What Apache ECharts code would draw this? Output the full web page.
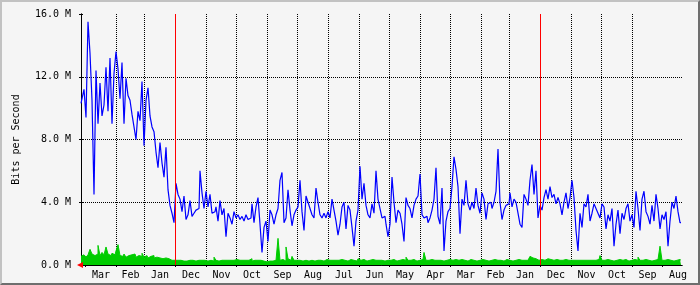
<!DOCTYPE html>
<html><head><meta charset="utf-8">
<script src="https://cdn.jsdelivr.net/npm/echarts@6/dist/echarts.min.js"></script>
<style>
html,body{margin:0;padding:0;background:#f5f5f5;overflow:hidden;}
#c{position:absolute;left:0;top:0;width:700px;height:285px;}
#frame{position:absolute;left:0;top:0;width:700px;height:285px;box-sizing:border-box;border-top:2px solid #c2c2c2;border-left:2px solid #c2c2c2;border-right:2px solid #6e6e6e;border-bottom:2px solid #6e6e6e;pointer-events:none;}
</style></head><body>
<div id="c"></div><div id="frame"></div>
<script>
// Month labels, newest month on the left (time runs right-to-left)
const monthLabels = ['Mar','Feb','Jan','Dec','Nov','Oct','Sep','Aug','Jul','Jun','May','Apr','Mar','Feb','Jan','Dec','Nov','Oct','Sep','Aug'];
const monthDays   = [31,28,31,31,30,31,30,31,31,30,31,30,31,28,31,31,30,31,30,31];
const nowOffset = 4.5;     // days between "now" (left edge) and the 1st of the current month
const totalDays = 601;     // days shown
const binDays = 2;         // each value below covers 2 days
const yTickValues = [0, 4, 8, 12, 16];
const yTickLabels = ['0.0 M', '4.0 M', '8.0 M', '12.0 M', '16.0 M'];

// Outgoing traffic (blue), Mbit/s, 2-day bins from newest (left) to oldest (right)
const outBits = [
 10.3,10.6,11.2,9.4,15.5,13.5,10.5,4.5,12.4,9.0,
 11.6,9.5,10.2,12.6,9.8,13.2,9.0,12.2,13.6,12.5,
 10.6,12.9,9.0,11.9,10.8,10.5,9.6,8.8,8.0,9.8,
 9.2,11.7,7.6,10.5,11.3,9.5,8.8,8.5,7.2,6.2,
 7.8,6.5,5.6,7.5,4.8,3.8,3.3,2.7,5.2,4.5,
 4.2,3.4,4.4,2.9,3.2,4.1,3.1,3.3,3.5,3.6,
 6.0,4.6,3.6,4.7,3.7,4.5,3.3,3.4,3.7,2.8,
 4.1,3.2,3.6,1.8,3.3,3.0,2.6,3.4,3.0,3.2,
 2.9,3.1,2.8,3.2,2.9,3.0,3.9,2.7,3.7,4.3,
 2.6,0.8,2.4,2.8,1.5,3.5,3.2,2.6,3.2,3.6,
 5.4,5.9,2.7,3.0,4.8,3.5,2.5,3.2,3.5,3.7,
 5.4,3.4,2.2,4.4,4.0,3.6,3.2,3.0,4.9,4.0,
 3.2,3.0,3.3,3.0,3.4,3.0,4.2,3.5,2.8,1.9,
 2.6,3.7,4.0,2.3,3.8,3.5,2.4,1.2,2.8,3.5,
 6.3,4.2,5.2,3.8,3.2,3.0,3.9,3.3,6.0,4.2,
 3.6,3.0,3.1,2.6,1.8,2.6,5.6,4.0,2.7,3.5,
 3.3,2.6,1.5,4.3,3.8,3.6,3.0,3.8,4.2,4.4,
 5.8,3.2,3.0,3.1,2.7,3.0,3.5,4.2,6.2,3.1,
 2.6,4.9,0.9,2.8,3.4,3.6,5.0,6.9,6.1,5.0,
 2.0,4.2,3.8,5.4,3.9,3.5,4.0,3.6,4.9,3.8,
 3.3,4.6,4.2,2.9,3.9,4.0,3.6,4.0,4.7,7.4,
 4.0,2.9,3.5,3.8,3.9,4.6,3.7,4.2,4.0,3.3,
 2.6,2.4,4.5,4.2,3.8,5.4,6.4,4.5,6.0,3.0,
 3.8,3.5,4.3,4.8,4.2,5.0,4.3,4.5,3.9,4.3,
 3.9,3.2,4.0,4.6,3.6,4.3,5.4,4.3,2.2,0.9,
 3.3,2.4,3.9,3.7,4.5,2.8,3.3,3.9,3.6,3.3,
 3.0,3.9,3.7,2.3,3.2,2.8,3.6,1.2,2.6,3.5,
 2.0,3.3,2.9,3.6,3.9,2.8,3.2,2.4,4.7,3.6,
 2.2,4.2,4.7,3.4,3.1,2.6,3.8,2.8,4.5,3.6,
 2.3,3.2,2.9,3.4,1.2,2.8,4.0,3.6,4.4,3.4,
 2.7
];

// Incoming traffic (green), Mbit/s, same bins
const inBits = [
 0.55,0.65,0.6,0.5,0.65,1.0,0.7,0.6,0.7,1.25,
 0.6,0.8,0.65,1.15,0.7,0.6,0.75,0.65,0.9,1.3,
 0.6,0.55,0.7,0.5,0.6,0.65,0.55,0.7,0.5,0.6,
 0.55,0.75,0.5,0.6,0.45,0.55,0.6,0.45,0.5,0.45,
 0.5,0.4,0.45,0.35,0.4,0.3,0.35,0.3,0.3,0.35,
 0.3,0.25,0.3,0.25,0.3,0.2,0.3,0.25,0.35,0.3,
 0.3,0.25,0.3,0.25,0.3,0.3,0.25,0.5,0.3,0.25,
 0.3,0.25,0.3,0.3,0.25,0.3,0.3,0.25,0.35,0.3,
 0.25,0.3,0.3,0.25,0.3,0.4,0.25,0.3,0.3,0.25,
 0.3,0.25,0.3,0.2,0.25,0.3,0.25,0.3,0.35,1.7,
 0.3,0.35,0.25,1.15,0.4,0.3,0.55,0.3,0.3,0.3,
 0.3,0.25,0.3,0.35,0.25,0.3,0.3,0.25,0.3,0.3,
 0.3,0.25,0.3,0.35,0.3,0.4,0.3,0.3,0.25,0.3,
 0.35,0.3,0.3,0.25,0.3,0.35,0.3,0.3,0.25,0.4,
 0.3,0.35,0.3,0.25,0.3,0.3,0.35,0.3,0.25,0.3,
 0.3,0.3,0.25,0.3,0.4,0.3,0.35,0.3,0.25,0.3,
 0.3,0.35,0.3,0.5,0.3,0.3,0.35,0.3,0.25,0.3,
 0.3,0.35,0.8,0.3,0.3,0.35,0.25,0.3,0.3,0.35,
 0.3,0.25,0.3,0.3,0.35,0.45,0.3,0.35,0.3,0.3,
 0.35,0.3,0.3,0.25,0.3,0.35,0.3,0.3,0.25,0.3,
 0.3,0.35,0.3,0.3,0.25,0.3,0.3,0.35,0.3,0.3,
 0.3,0.25,0.3,0.35,0.3,0.3,0.25,0.3,0.3,0.35,
 0.3,0.35,0.3,0.3,0.4,0.55,0.45,0.4,0.3,0.3,
 0.35,0.3,0.3,0.4,0.3,0.35,0.3,0.3,0.35,0.3,
 0.3,0.3,0.35,0.25,0.3,0.3,0.4,0.3,0.3,0.35,
 0.3,0.3,0.25,0.3,0.3,0.35,0.3,0.3,0.3,0.35,
 0.6,0.3,0.3,0.35,0.3,0.3,0.25,0.3,0.3,0.35,
 0.3,0.3,0.35,0.3,0.25,0.3,0.3,0.35,0.3,0.5,
 0.3,0.3,0.35,0.3,0.3,0.25,0.3,0.3,0.35,0.3,
 1.2,0.3,0.3,0.35,0.3,0.3,0.25,0.3,0.3,0.35,
 0.3
];

// month boundaries (1st of each month) and label positions (mid-month)
const boundaries = [nowOffset];
const mids = [];
monthDays.forEach((d, k) => {
  mids.push(boundaries[k] + d / 2);
  boundaries.push(boundaries[k] + d);
});
const gridBounds = boundaries.slice(0, monthLabels.length);
const yearLines = [];
monthLabels.forEach((m, k) => { if (m === 'Jan') yearLines.push(boundaries[k + 1]); });

const FONT = 'DejaVu Sans Mono';
const chart = echarts.init(document.getElementById('c'), null, {renderer: 'canvas'});
chart.setOption({
  animation: false,
  backgroundColor: 'transparent',
  grid: {left: 81, top: 14, right: 18, bottom: 20, outerBoundsMode: 'none', containLabel: false},
  xAxis: [{
    type: 'value', min: 0, max: totalDays, position: 'bottom',
    axisLine: {show: true, lineStyle: {color: '#000', width: 1}},
    axisTick: {show: true, customValues: gridBounds, length: 2, inside: false, lineStyle: {color: '#000'}},
    axisLabel: {show: true, customValues: mids, margin: 5, color: '#000', fontFamily: FONT, fontSize: 10,
      formatter: function (v) { const k = mids.indexOf(v); return k >= 0 ? monthLabels[k] : ''; }},
    splitLine: {show: true, showMinLine: false, showMaxLine: false, lineStyle: {color: '#000', width: 1, type: [1, 1]}}
  }, {
    type: 'value', min: 0, max: totalDays, position: 'top',
    axisLine: {show: true, lineStyle: {color: '#000', width: 1}},
    axisTick: {show: false}, axisLabel: {show: false}, splitLine: {show: false}
  }],
  yAxis: [{
    type: 'value', min: 0, max: 16, interval: 4, position: 'left',
    name: 'Bits per Second', nameLocation: 'middle', nameGap: 60,
    nameTextStyle: {color: '#000', fontFamily: FONT, fontSize: 10},
    axisLine: {show: true, lineStyle: {color: '#000', width: 1}},
    axisTick: {show: true, length: 2, inside: false, lineStyle: {color: '#000'}},
    axisLabel: {show: true, margin: 10, color: '#000', fontFamily: FONT, fontSize: 10,
      formatter: function (v) { const k = yTickValues.indexOf(v); return k >= 0 ? yTickLabels[k] : ''; }},
    splitLine: {show: true, showMinLine: false, showMaxLine: false, lineStyle: {color: '#000', width: 1, type: [1, 1]}}
  }, {
    type: 'value', min: 0, max: 16, interval: 4, position: 'right',
    axisLine: {show: true, lineStyle: {color: '#000', width: 1}},
    axisTick: {show: true, length: 2, inside: false, lineStyle: {color: '#000'}},
    axisLabel: {show: false}, splitLine: {show: false}
  }],
  series: [{
    name: 'In', type: 'line', xAxisIndex: 0, yAxisIndex: 0,
    data: inBits.map((v, i) => [i * binDays, v]),
    showSymbol: false, symbol: 'none', step: 'middle',
    lineStyle: {color: '#00cc00', width: 1},
    areaStyle: {color: '#00cc00', opacity: 1},
    itemStyle: {color: '#00cc00'},
    z: 2,
    markLine: {
      silent: true, symbol: 'none', label: {show: false},
      lineStyle: {color: '#ff0000', width: 1, type: 'solid'},
      data: yearLines.map(v => ({xAxis: v}))
    }
  }, {
    name: 'Out', type: 'line', xAxisIndex: 0, yAxisIndex: 0,
    data: outBits.map((v, i) => [i * binDays, v]),
    showSymbol: false, symbol: 'none', step: 'middle',
    lineStyle: {color: '#0000ff', width: 1.2},
    itemStyle: {color: '#0000ff'},
    z: 3,
    markPoint: {
      silent: true, symbol: 'triangle', symbolSize: [6, 6], symbolRotate: 90, symbolOffset: [-1, 0],
      itemStyle: {color: '#ff0000'}, label: {show: false},
      data: [{coord: [0, 0]}]
    }
  }]
});
</script></body></html>
